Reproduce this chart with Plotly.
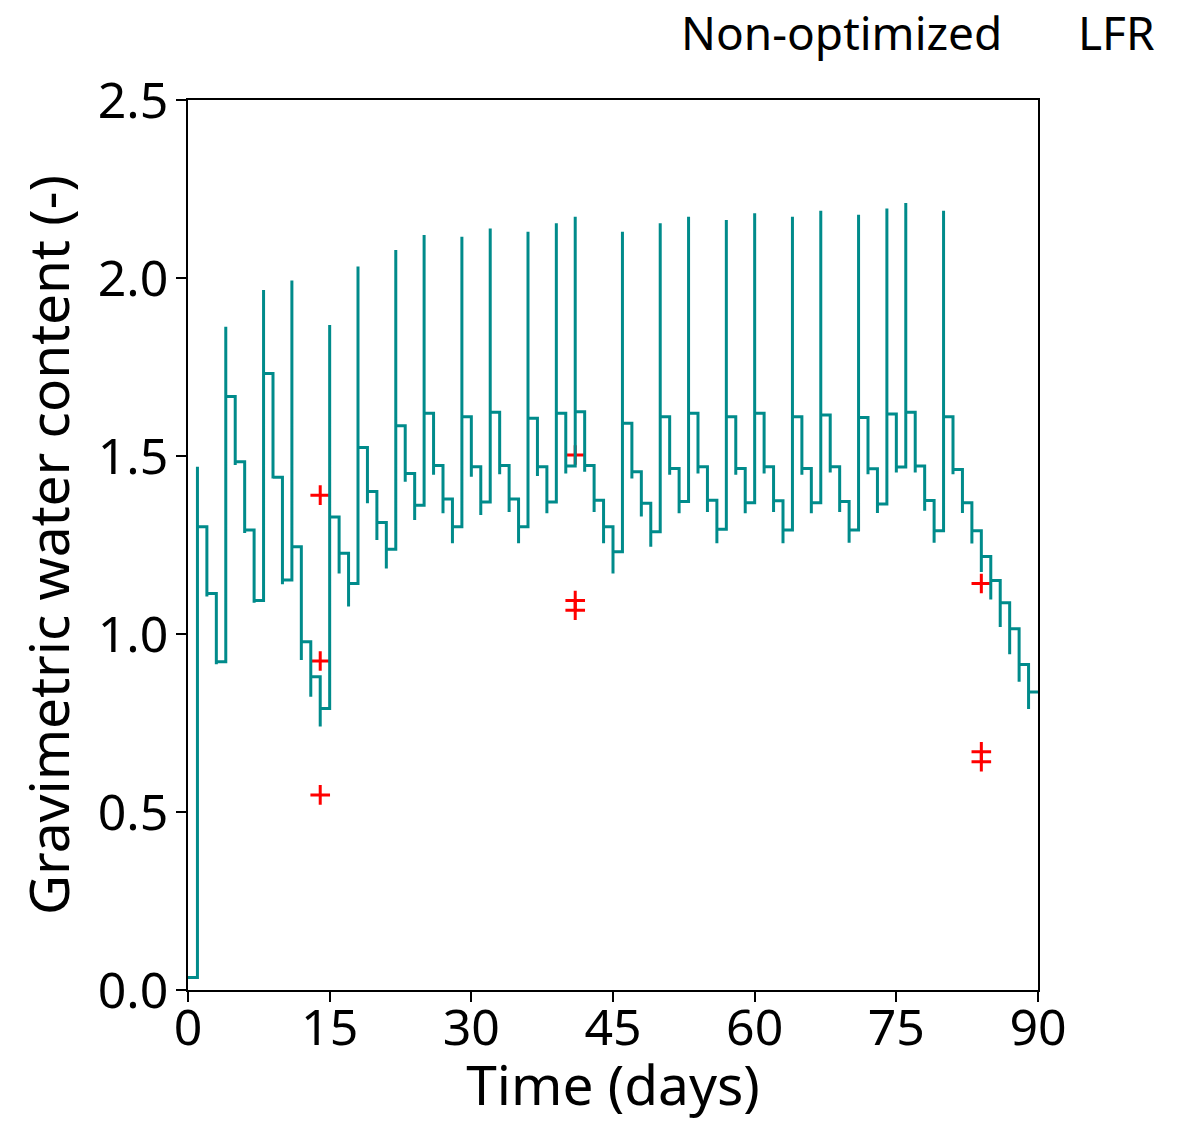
import plotly.graph_objects as go

# ---------------- data ----------------
start_level = 0.035

irr_days = [1, 4, 8, 11, 15, 18, 22, 25, 29, 32, 36, 39, 41, 46, 50, 53, 57, 60,
            64, 67, 71, 74, 76, 80]
irr_peaks = [1.47, 1.863, 1.966, 1.993, 1.868, 2.032, 2.079, 2.121, 2.116, 2.139,
             2.13, 2.154, 2.172, 2.13, 2.154, 2.172, 2.163, 2.182, 2.172, 2.189,
             2.178, 2.195, 2.211, 2.189]
irr_after = [1.301, 1.667, 1.732, 1.245, 1.329, 1.524, 1.585, 1.62, 1.61, 1.623,
             1.606, 1.62, 1.624, 1.592, 1.61, 1.62, 1.61, 1.62, 1.61, 1.615,
             1.608, 1.618, 1.623, 1.61]

drop_days = [2, 3, 5, 6, 7, 9, 10, 12, 13, 14, 16, 17, 19, 20, 21, 23, 24, 26, 27,
             28, 30, 31, 33, 34, 35, 37, 38, 40, 42, 43, 44, 45, 47, 48, 49, 51, 52,
             54, 55, 56, 58, 59, 61, 62, 63, 65, 66, 68, 69, 70, 72, 73, 75, 77, 78,
             79, 81, 82, 83, 84, 85, 86, 87, 88, 89]
drop_lows = [1.105, 0.915, 1.475, 1.284, 1.088, 1.437, 1.14, 0.927, 0.824, 0.74,
             1.17, 1.077, 1.367, 1.264, 1.184, 1.428, 1.32, 1.447, 1.339, 1.255,
             1.442, 1.334, 1.449, 1.343, 1.255, 1.444, 1.339, 1.451, 1.456, 1.343,
             1.255, 1.17, 1.437, 1.33, 1.245, 1.447, 1.339, 1.451, 1.343, 1.255,
             1.447, 1.339, 1.451, 1.343, 1.255, 1.447, 1.339, 1.454, 1.343, 1.256,
             1.449, 1.34, 1.454, 1.454, 1.346, 1.256, 1.449, 1.34, 1.254, 1.174,
             1.097, 1.02, 0.943, 0.866, 0.789]
drop_levels = [1.114, 0.922, 1.484, 1.292, 1.094, 1.44, 1.152, 0.978, 0.88, 0.791,
               1.227, 1.142, 1.40, 1.313, 1.238, 1.451, 1.362, 1.473, 1.379, 1.301,
               1.47, 1.371, 1.473, 1.379, 1.301, 1.47, 1.371, 1.472, 1.473, 1.376,
               1.301, 1.231, 1.456, 1.367, 1.287, 1.465, 1.372, 1.47, 1.376, 1.294,
               1.465, 1.369, 1.47, 1.374, 1.292, 1.465, 1.369, 1.47, 1.372, 1.292,
               1.464, 1.365, 1.469, 1.472, 1.375, 1.29, 1.462, 1.369, 1.29, 1.218,
               1.15, 1.088, 1.015, 0.914, 0.837]

meas_days = [14, 14, 14, 41, 41, 41, 84, 84, 84]
meas_vals = [1.39, 0.924, 0.548, 1.503, 1.094, 1.067, 1.142, 0.669, 0.641]

x_ticks = [0, 15, 30, 45, 60, 75, 90]
y_ticks = [0.0, 0.5, 1.0, 1.5, 2.0, 2.5]

# ---------------- build the step series ----------------
irr = dict(zip(irr_days, zip(irr_peaks, irr_after)))
drp = dict(zip(drop_days, zip(drop_lows, drop_levels)))
ts, ys = [0], [start_level]
cur = start_level
for d in range(1, 90):
    if d in irr:
        p, a = irr[d]
        ts += [d, d, d]
        ys += [cur, p, a]
        cur = a
    elif d in drp:
        lo, lv = drp[d]
        ts += [d, d, d]
        ys += [cur, lo, lv]
        cur = lv
ts.append(90)
ys.append(cur)

FONT = "Noto Sans"

fig = go.Figure()
fig.add_trace(go.Scatter(
    x=meas_days, y=meas_vals, mode="markers",
    marker=dict(symbol="cross-thin", size=14, color="red",
                line=dict(color="red", width=3)),
    hoverinfo="skip"))
fig.add_trace(go.Scatter(
    x=ts, y=ys, mode="lines",
    line=dict(color="#008B8B", width=3)))

axis_common = dict(
    showgrid=False, zeroline=False, showline=True, linecolor="black",
    linewidth=1.5, mirror=True, ticks="outside", ticklen=10, tickwidth=1.5,
    tickcolor="black", tickfont=dict(family=FONT, size=50, color="black"),
    automargin=False,
)

fig.update_layout(
    width=1184, height=1121,
    margin=dict(l=188, r=146, t=100, b=131),
    paper_bgcolor="white", plot_bgcolor="white",
    showlegend=False,
    font=dict(family=FONT, color="black"),
    xaxis=dict(range=[0, 90], tickvals=x_ticks, ticktext=[str(v) for v in x_ticks],
               ticklabelstandoff=-17,
               title=dict(text="Time (days)", font=dict(family=FONT, size=55),
                          standoff=22),
               **axis_common),
    yaxis=dict(range=[0, 2.5], tickvals=y_ticks,
               ticktext=[f"{v:.1f}" for v in y_ticks],
               ticklabelstandoff=-2,
               title=dict(text="Gravimetric water content (-)",
                          font=dict(family=FONT, size=55), standoff=10),
               **axis_common),
    annotations=[
        dict(text="Non-optimized", xref="paper", yref="paper",
             x=(841 - 188) / 850, y=(990 - 32) / 890, xanchor="center",
             yanchor="middle", showarrow=False,
             font=dict(family=FONT, size=46, color="black")),
        dict(text="LFR", xref="paper", yref="paper",
             x=(1116 - 188) / 850, y=(990 - 32) / 890, xanchor="center",
             yanchor="middle", showarrow=False,
             font=dict(family=FONT, size=46, color="black")),
    ],
)

fig.write_html("out.html")
